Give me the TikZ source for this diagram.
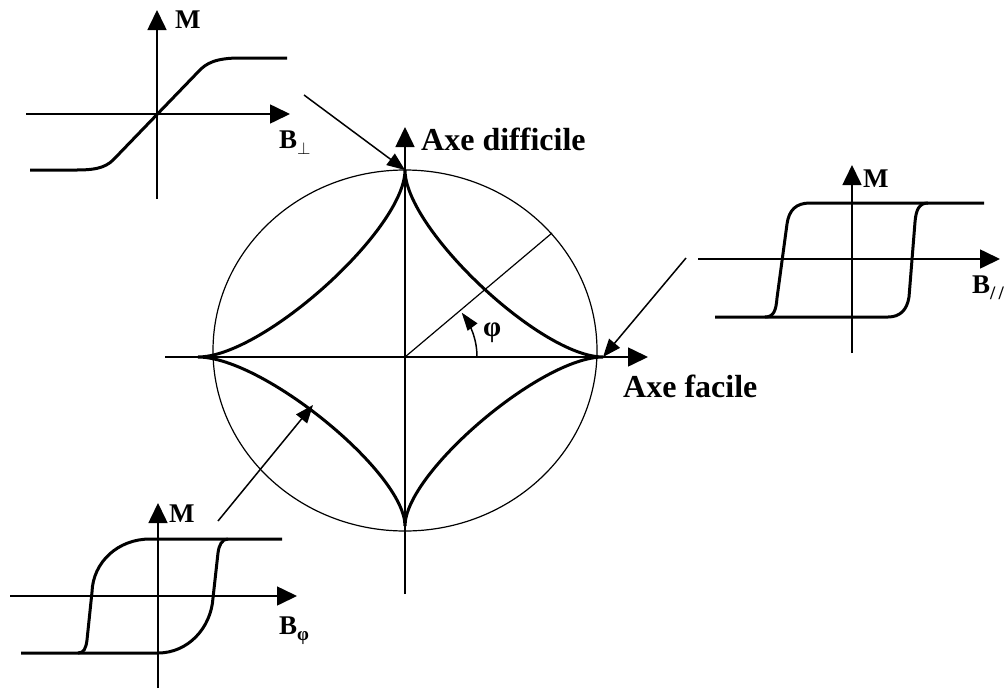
\documentclass[tikz,border=0pt]{standalone}
\usepackage{fontspec}
\setmainfont{Liberation Serif}
\usetikzlibrary{arrows.meta}
\newcommand{\lowtxt}[1]{\raisebox{-0.25em}{\fontsize{19}{20}\selectfont #1}}
\begin{document}
\begin{tikzpicture}[x=1pt,y=-1pt]
    \tikzstyle{axisline} = [line width=1.6pt, -{Triangle[length=20pt,width=19pt]}]
    \tikzstyle{curve} = [line width=3pt]
    \tikzstyle{leader} = [line width=1.5pt, -{Triangle[length=18pt,width=14pt]}]
    \tikzstyle{lbl} = [inner sep=0pt, anchor=base west]
    \tikzstyle{big} = [font=\fontsize{32}{36}\selectfont\bfseries]
    \tikzstyle{mid} = [font=\fontsize{27}{30}\selectfont\bfseries]
    \useasboundingbox (0,0) rectangle (1008,688);
    \clip (0,0) rectangle (1008,688);

    % main figure: circle, astroid, axes
    \coordinate (cuspT) at (405,170);
    \coordinate (cuspR) at (603,357);
    \coordinate (cuspB) at (405,526);
    \coordinate (cuspL) at (198,357);
    \draw[line width=1.2pt] (405,350.5) ellipse [x radius=192pt, y radius=180.5pt];
    \draw[axisline] (165,357) -- (648,357);
    \draw[axisline] (405,594) -- (405,127);
    \draw[line width=1.2pt] (405,357) -- (552,233);
    \draw[curve] (cuspT) .. controls (405,229) and (541,357) .. (cuspR)
      .. controls (541,357) and (405,473) .. (cuspB)
      .. controls (405,473) and (263,357) .. (cuspL)
      .. controls (263,357) and (405,229) .. (cuspT);
    \draw[line width=1.5pt, -{Triangle[length=18pt,width=12pt]}]
      plot[domain=0:38, samples=20] ({405+72*cos(\x)},{357-72*sin(\x)});
    \node[lbl, big] (hard) at (421,150) {Axe difficile};
    \node[lbl, big] (easy) at (623,397) {Axe facile};
    \node[lbl, font=\fontsize{29}{32}\selectfont\bfseries] (phi) at (483,336) {φ};

    % top left: hard axis loop
    \draw[axisline] (26,114) -- (290,114);
    \draw[axisline] (157,199) -- (157,10);
    \draw[curve] (30,170) -- (77,170) .. controls (100,170) and (108,166) .. (116,157)
      -- (198,72) .. controls (206,63) and (216,58) .. (240,58) -- (287,58);
    \node[lbl, mid] (m1) at (175,28) {M};
    \node[lbl, mid] (bperp) at (279,148) {B\lowtxt{$\perp$}};

    % right: easy axis loop
    \draw[axisline] (698,259) -- (1000,259);
    \draw[axisline] (852,353) -- (852,165);
    \draw[curve] (715,317) -- (765,317) .. controls (774,317) and (776,310) .. (777,298)
      -- (787,224) .. controls (789,210) and (796,203) .. (810,203) -- (984,203);
    \draw[curve] (928,203) .. controls (919,203) and (916,210) .. (915,222)
      -- (909,297) .. controls (907,310) and (900,317) .. (888,317) -- (765,317);
    \node[lbl, mid] (m2) at (863,187) {M};
    \node[lbl, mid] (bpar) at (972,293) {B\lowtxt{/\,/}};

    % bottom left: loop at angle phi
    \draw[axisline] (10,596) -- (297,596);
    \draw[axisline] (158,688) -- (158,503);
    \draw[curve] (21,653) -- (78,653) .. controls (84,653) and (86,648) .. (87,640)
      -- (92,592) .. controls (93,562) and (118,539) .. (150,539) -- (282,539);
    \draw[curve] (228,539) .. controls (222,539) and (219,545) .. (218,553)
      -- (213,598) .. controls (211,628) and (188,653) .. (158,653) -- (78,653);
    \node[lbl, mid] (m3) at (169,522) {M};
    \node[lbl, mid] (bphi) at (279,634) {B\lowtxt{φ}};

    % pointers from the loops to the astroid
    \coordinate (from1) at (304,95);
    \coordinate (from2) at (686,258);
    \coordinate (from3) at (218,521);
    \coordinate (onarc) at (313,405);
    \draw[leader] (from1) -- (cuspT);
    \draw[leader] (from2) -- (cuspR);
    \draw[leader] (from3) -- (onarc);
\end{tikzpicture}
\end{document}
